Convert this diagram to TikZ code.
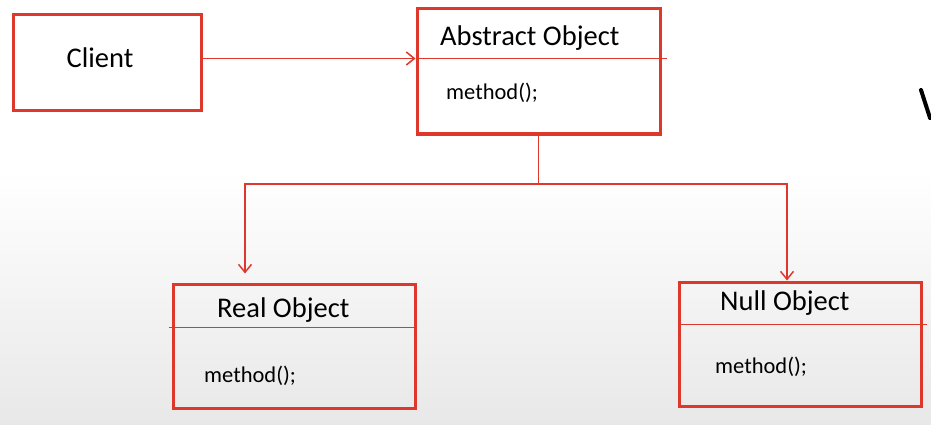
\documentclass[tikz,border=0pt]{standalone}
\usepackage{fontspec}
\setmainfont{Carlito}
\usepackage{tikz}
\usetikzlibrary{arrows.meta,calc}

\definecolor{umlred}{RGB}{222,56,44}
\tikzset{
  classbox/.style={draw=umlred, line width=3pt, minimum width=242pt, minimum height=124pt, inner sep=0pt},
  sep/.style={draw=umlred, line width=1.5pt},
  link/.style={draw=umlred, line width=1.6pt, -{Straight Barb[length=8pt,width=13pt,line width=1.5pt]}},
  title/.style={font=\fontsize{28.5}{30}\selectfont, inner sep=0pt},
  op/.style={font=\fontsize{22.5}{24}\selectfont, inner sep=0pt}
}

\begin{document}
\begin{tikzpicture}[x=1pt,y=-1pt]
\useasboundingbox (0,0) rectangle (931,425);
\fill[white] (0,0) rectangle (931,172);
\shade[top color=white, bottom color=black!9] (0,170) rectangle (931,425);
% boxes
\node[classbox, minimum width=188pt, minimum height=96pt] (client) at (107,63) {};
\node[classbox, minimum width=243pt, minimum height=125pt] (abstract) at (538.5,71.5) {};
\node[classbox] (real) at (294,346) {};
\node[classbox] (null) at (800,344) {};
% texts
\node[title] (clientname) at (100,58) {Client};
\node[title, anchor=west] (abstractname) at (440,38) {Abstract Object};
\node[op, anchor=west] (abstractop) at (446,93) {method();};
\node[title, anchor=west] (realname) at (217,310) {Real Object};
\node[op, anchor=west] (realop) at (204,376) {method();};
\node[title, anchor=west] (nullname) at (720,303) {Null Object};
\node[op, anchor=west] (nullop) at (715,367) {method();};
% compartment lines
\draw[sep] ([yshift=-51pt]abstract.north west) -- ([xshift=5pt,yshift=-51pt]abstract.north east);
\draw[sep] ([xshift=-3pt,yshift=-45pt]real.north west) -- ([yshift=-45pt]real.north east);
\draw[sep] ([yshift=-44pt]null.north west) -- ([xshift=4pt,yshift=-44pt]null.north east);
% associations
\draw[link] ([yshift=-45pt]client.north east) -- ([yshift=-51pt]abstract.north west);
\coordinate (split) at (abstract.south |- 0,184);
\coordinate (realtip) at ([xshift=-49pt,yshift=9pt]real.north);
\coordinate (nulltip) at ([xshift=-13pt]null.north);
\draw[sep] (abstract.south) -- (split);
\draw[link] (split) -| (realtip);
\draw[link] (split) -| (nulltip);
% pen stroke at the edge
\draw[line width=4pt, line cap=round] (921,90) -- (930,118);
\end{tikzpicture}
\end{document}
